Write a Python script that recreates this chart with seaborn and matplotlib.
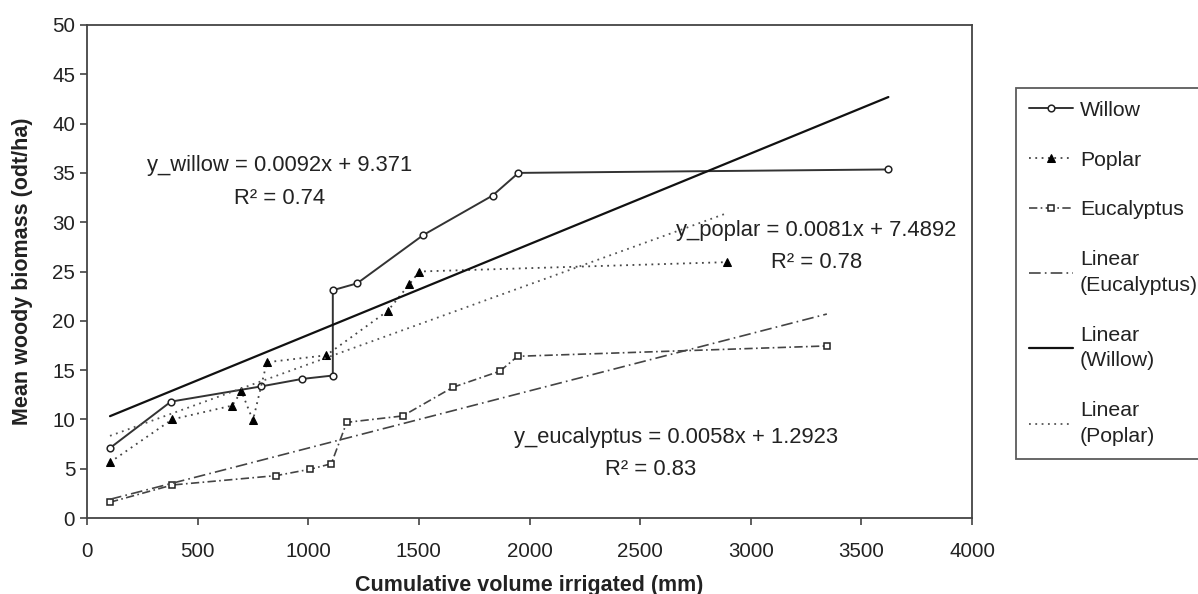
import numpy as np
import pandas as pd
import seaborn as sns
import matplotlib.pyplot as plt

# =========================
# DATA
# =========================
willow_x = [104, 379, 788, 971, 1111, 1111, 1221, 1520, 1833, 1950, 3622]
willow_y = [7.1, 11.8, 13.35, 14.1, 14.45, 23.1, 23.8, 28.7, 32.7, 35.0, 35.35]

poplar_x = [104, 385, 656, 698, 750, 813, 1081, 1359, 1457, 1502, 2893]
poplar_y = [5.65, 10.0, 11.4, 12.85, 9.9, 15.8, 16.5, 21.0, 23.7, 25.0, 25.95]

euc_x = [104, 386, 856, 1009, 1104, 1174, 1427, 1653, 1867, 1946, 3344]
euc_y = [1.6, 3.35, 4.3, 4.95, 5.5, 9.7, 10.35, 13.25, 14.9, 16.4, 17.45]

# trendline coefficients as printed on the chart
trend_names = ["Willow", "Poplar", "Eucalyptus"]
trend_slopes = [0.0092, 0.0081, 0.0058]
trend_intercepts = [9.371, 7.4892, 1.2923]
trend_r2 = [0.74, 0.78, 0.83]

x_ticks = [0, 500, 1000, 1500, 2000, 2500, 3000, 3500, 4000]
y_ticks = [0, 5, 10, 15, 20, 25, 30, 35, 40, 45, 50]

# =========================
# STYLE
# =========================
sns.set_theme(style="ticks")
plt.rcParams["font.family"] = ["Liberation Sans", "DejaVu Sans"]
plt.rcParams["axes.edgecolor"] = "#333333"
plt.rcParams["xtick.color"] = "#333333"
plt.rcParams["ytick.color"] = "#333333"

fig = plt.figure(figsize=(11.98, 5.94), dpi=100)
ax = fig.add_axes([87 / 1198, 1 - 518 / 594, (972 - 87) / 1198, (518 - 25) / 594])

# =========================
# DATA SERIES
# =========================
df_w = pd.DataFrame({"x": willow_x, "y": willow_y})
df_p = pd.DataFrame({"x": poplar_x, "y": poplar_y})
df_e = pd.DataFrame({"x": euc_x, "y": euc_y})

sns.lineplot(data=df_w, x="x", y="y", ax=ax, estimator=None, sort=False,
             color="#333333", linewidth=1.4, marker="o", markersize=4.8,
             markerfacecolor="white", markeredgecolor="#222222", markeredgewidth=1.1)
sns.lineplot(data=df_p, x="x", y="y", ax=ax, estimator=None, sort=False,
             color="#444444", linewidth=1.3, linestyle=(0, (1, 2.5)), marker="^",
             markersize=6, markerfacecolor="black", markeredgecolor="black")
sns.lineplot(data=df_e, x="x", y="y", ax=ax, estimator=None, sort=False,
             color="#444444", linewidth=1.2, linestyle=(0, (5, 2, 1, 2)), marker="s",
             markersize=5, markerfacecolor="white", markeredgecolor="#222222",
             markeredgewidth=1.1)
series_lines = list(ax.get_lines())

# =========================
# TRENDLINES
# =========================
ranges = {"Willow": willow_x, "Poplar": poplar_x, "Eucalyptus": euc_x}
styles = {
    "Willow": dict(color="#111111", linewidth=1.6, linestyle="-"),
    "Poplar": dict(color="#555555", linewidth=1.3, linestyle=(0, (1, 2.5))),
    "Eucalyptus": dict(color="#444444", linewidth=1.2, linestyle=(0, (7, 2.5, 1, 2.5))),
}
trend_lines = {}
for name, m, b in zip(trend_names, trend_slopes, trend_intercepts):
    xs = np.array([min(ranges[name]), max(ranges[name])])
    tdf = pd.DataFrame({"x": xs, "y": m * xs + b})
    n_before = len(ax.get_lines())
    sns.lineplot(data=tdf, x="x", y="y", ax=ax, estimator=None, sort=False, **styles[name])
    trend_lines[name] = ax.get_lines()[n_before]

# =========================
# EQUATION LABELS
# =========================
txt = dict(fontsize=15.8, color="#222222", ha="center", va="center")
ax.text(870, 35.8, "y_willow = 0.0092x + 9.371", **txt)
ax.text(870, 32.4, f"R² = {trend_r2[0]:.2f}", **txt)
ax.text(3297, 29.2, "y_poplar = 0.0081x + 7.4892", **txt)
ax.text(3297, 25.9, f"R² = {trend_r2[1]:.2f}", **txt)
ax.text(2661, 8.15, "y_eucalyptus = 0.0058x + 1.2923", **txt)
ax.text(2548, 4.9, f"R² = {trend_r2[2]:.2f}", **txt)

# =========================
# AXES
# =========================
ax.set_xlim(0, 4000)
ax.set_ylim(0, 50)
ax.set_xticks(x_ticks)
ax.set_yticks(y_ticks)
ax.tick_params(axis="both", labelsize=14.8, length=5, width=1.1, direction="out",
               labelcolor="#222222")
ax.tick_params(axis="x", pad=12)
for s in ax.spines.values():
    s.set_visible(True)
    s.set_linewidth(1.3)
    s.set_color("#444444")
ax.set_xlabel("Cumulative volume irrigated (mm)", fontsize=15.5, fontweight="bold",
              color="#222222", labelpad=10)
ax.set_ylabel("Mean woody biomass (odt/ha)", fontsize=15.5, fontweight="bold",
              color="#222222", labelpad=14)

# =========================
# LEGEND
# =========================
handles = series_lines[:3] + [trend_lines["Eucalyptus"], trend_lines["Willow"], trend_lines["Poplar"]]
labels = ["Willow", "Poplar", "Eucalyptus", "Linear\n(Eucalyptus)", "Linear\n(Willow)", "Linear\n(Poplar)"]
leg = fig.legend(handles, labels, loc="upper left", bbox_to_anchor=(1016 / 1198, 1 - 88 / 594),
                 frameon=True, fancybox=False, edgecolor="#333333", fontsize=15.3,
                 labelspacing=1.45, handlelength=2.1, handletextpad=0.3, borderpad=0.6,
                 borderaxespad=0)
leg.get_frame().set_linewidth(1.3)
for t in leg.get_texts():
    t.set_color("#222222")
    t.set_linespacing(1.45)

fig.savefig("out.png", dpi=100)
